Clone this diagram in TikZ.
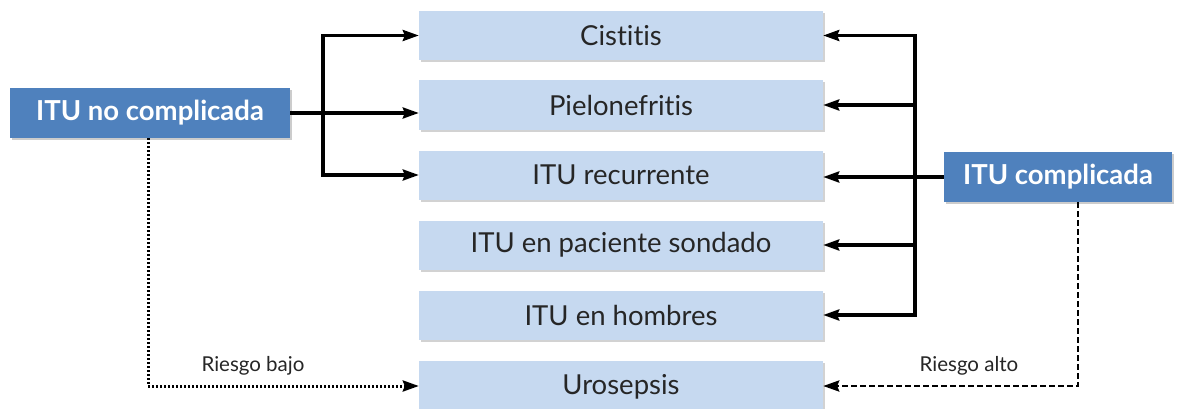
\documentclass[tikz,border=0pt]{standalone}
\usepackage{fontspec}
\setmainfont[Ligatures=NoCommon]{Lato}
\usetikzlibrary{arrows.meta,shadows,calc}
\definecolor{lightbox}{HTML}{C6D9F0}
\definecolor{darkbox}{HTML}{4F81BD}
\begin{document}
\begin{tikzpicture}[x=1pt,y=-1pt,
  catbox/.style={fill=lightbox,draw=none,minimum width=404pt,minimum height=49pt,inner sep=0pt,
     font=\fontsize{27.5}{32}\selectfont,text=black!85,
     drop shadow={shadow xshift=1.5pt,shadow yshift=-2pt,opacity=0.35}},
  mainbox/.style={fill=darkbox,draw=none,minimum height=50pt,inner sep=0pt,
     font=\fontsize{27.5}{32}\selectfont\bfseries,text=white,
     drop shadow={shadow xshift=2pt,shadow yshift=-2pt,opacity=0.4}},
  conn/.style={line width=3.2pt,-{Stealth[length=16pt,width=11pt,inset=2pt]}},
  risk/.style={font=\fontsize{20.5}{24}\selectfont,text=black!85}
]
\useasboundingbox (0,0) rectangle (1182,409);
\fill[white] (0,0) rectangle (1182,409);
\node[catbox] (c1) at (621,35.5) {Cistitis};
\node[catbox] (c2) at (621,105) {Pielonefritis};
\node[catbox] (c3) at (621,175) {ITU recurrente};
\node[catbox] (c4) at (621,245) {ITU en paciente sondado};
\node[catbox] (c5) at (621,315) {ITU en hombres};
\node[catbox,minimum height=52pt] (c6) at (621,387) {Urosepsis};
\node[mainbox,minimum width=280pt] (nc) at (150,113) {ITU no complicada};
\node[mainbox,minimum width=228pt] (co) at (1058,177) {ITU complicada};
\coordinate (lj) at (323,113);
\coordinate (rj) at (915,177);
% left branch
\draw[line width=3.2pt] (nc.east) -- (lj);
\draw[conn] (nc.east) -- (c2.west |- nc.east);
\draw[conn] (lj) |- (c1.west);
\draw[conn] (lj) |- (c3.west);
% right branch
\draw[line width=3.2pt] (co.west) -- (rj);
\draw[conn] (rj) |- (c1.east);
\draw[conn] (rj) |- (c2.east);
\draw[conn] (co.west) -- (c3.east |- co.west);
\draw[conn] (rj) |- (c4.east);
\draw[conn] (rj) |- (c5.east);
% risk connectors
\coordinate (lb) at (148,386);
\coordinate (rb) at (1078,386);
\draw[conn,line width=3pt,dash pattern=on 2pt off 2pt] (nc.south -| lb) -- (lb) -- (c6.west |- lb);
\draw[conn,line width=2.6pt,dash pattern=on 6pt off 3pt] (co.south -| rb) -- (rb) -- (c6.east |- rb);
\node[risk] (rl) at (253,366) {Riesgo bajo};
\node[risk] (rh) at (969,366) {Riesgo alto};
\end{tikzpicture}
\end{document}
